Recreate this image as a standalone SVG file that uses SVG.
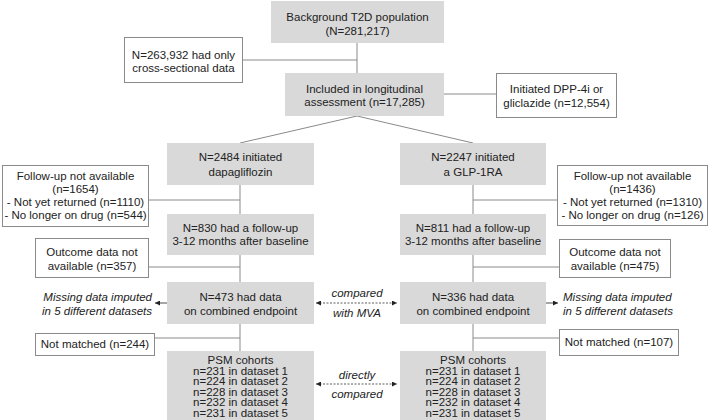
<svg xmlns="http://www.w3.org/2000/svg" width="709" height="420" viewBox="0 0 709 420">
<style>
text{font-family:"Liberation Sans",Arial,sans-serif;font-size:11.5px;fill:#222;text-anchor:middle}
.g{fill:#d9d9d9;stroke:none}
.w{fill:#fff;stroke:#8a8a8a;stroke-width:1}
.ln{stroke:#8a8a8a;stroke-width:1;fill:none}
.ds{stroke:#333;stroke-width:0.8;stroke-dasharray:2,1.5;fill:none}
.it{font-style:italic}
.l{text-anchor:start}
.r{text-anchor:end}
</style>
<defs>
<marker id="ah" viewBox="0 0 10 10" refX="10" refY="5" markerWidth="5" markerHeight="5" markerUnits="userSpaceOnUse" orient="auto-start-reverse">
<path d="M0,0 L10,5 L0,10 z" fill="#222"/>
</marker>
</defs>
<g id="connectors">
<line class="ln" x1="357" y1="43" x2="357" y2="73"/>
<line class="ln" x1="242" y1="60" x2="357" y2="60"/>
<line class="ln" x1="444" y1="94" x2="496" y2="94"/>
<line class="ln" x1="357" y1="116" x2="240" y2="143"/>
<line class="ln" x1="357" y1="116" x2="473" y2="143"/>
<line class="ln" x1="240" y1="185" x2="240" y2="214"/>
<line class="ln" x1="240" y1="255" x2="240" y2="282"/>
<line class="ln" x1="240" y1="324" x2="240" y2="351"/>
<line class="ln" x1="473" y1="185" x2="473" y2="214"/>
<line class="ln" x1="473" y1="255" x2="473" y2="282"/>
<line class="ln" x1="473" y1="324" x2="473" y2="351"/>
<line class="ln" x1="148" y1="200" x2="240" y2="200"/>
<line class="ln" x1="473" y1="200" x2="557" y2="200"/>
<line class="ln" x1="148" y1="267" x2="240" y2="267"/>
<line class="ln" x1="473" y1="267" x2="559" y2="267"/>
<line class="ln" x1="154" y1="338" x2="240" y2="338"/>
<line class="ln" x1="473" y1="338" x2="559" y2="338"/>
<line stroke="#222" stroke-width="0.8" x1="167" y1="303" x2="155" y2="303" marker-end="url(#ah)"/>
<line stroke="#222" stroke-width="0.8" x1="546" y1="303" x2="558" y2="303" marker-end="url(#ah)"/>
<line class="ds" x1="316" y1="303" x2="397" y2="303" marker-start="url(#ah)" marker-end="url(#ah)"/>
<line class="ds" x1="316" y1="384" x2="397" y2="384" marker-start="url(#ah)" marker-end="url(#ah)"/>
<text class="it" x="357" y="297">compared</text>
<text class="it" x="357" y="317">with MVA</text>
<text class="it" x="357" y="379">directly</text>
<text class="it" x="357" y="398">compared</text>
</g>
<g id="background">
<rect class="g" x="271" y="1" width="173" height="42"/>
<text x="357.5" y="21">Background T2D population</text>
<text x="357.5" y="35">(N=281,217)</text>
</g>
<g id="crosssectional">
<rect class="w" x="124.5" y="37.5" width="118" height="45"/>
<text x="183.5" y="59">N=263,932 had only</text>
<text x="183.5" y="72">cross-sectional data</text>
</g>
<g id="longitudinal">
<rect class="g" x="285" y="73" width="159" height="43"/>
<text x="364.5" y="93">Included in longitudinal</text>
<text x="364.5" y="106">assessment (n=17,285)</text>
</g>
<g id="dpp4i">
<rect class="w" x="496.5" y="73.5" width="120" height="44"/>
<text x="556.5" y="93">Initiated DPP-4i or</text>
<text x="556.5" y="107">gliclazide (n=12,554)</text>
</g>
<g id="dapa">
<rect class="g" x="167" y="143" width="147" height="42"/>
<text x="240.5" y="161">N=2484 initiated</text>
<text x="240.5" y="176">dapagliflozin</text>
</g>
<g id="glp">
<rect class="g" x="400" y="143" width="146" height="42"/>
<text x="473" y="161">N=2247 initiated</text>
<text x="473" y="176">a GLP-1RA</text>
</g>
<g id="fu-left">
<rect class="w" x="2.5" y="165.5" width="146" height="61"/>
<text x="75.5" y="180">Follow-up not available</text>
<text x="75.5" y="193">(n=1654)</text>
<text x="75.5" y="206">- Not yet returned (n=1110)</text>
<text x="75.5" y="219">- No longer on drug (n=544)</text>
</g>
<g id="fu-right">
<rect class="w" x="557.5" y="165.5" width="150" height="60"/>
<text x="632.5" y="180">Follow-up not available</text>
<text x="632.5" y="193">(n=1436)</text>
<text x="632.5" y="206">- Not yet returned (n=1310)</text>
<text x="632.5" y="219">- No longer on drug (n=126)</text>
</g>
<g id="fu830">
<rect class="g" x="167" y="214" width="147" height="41"/>
<text x="240.5" y="232">N=830 had a follow-up</text>
<text x="240.5" y="245">3-12 months after baseline</text>
</g>
<g id="fu811">
<rect class="g" x="400" y="214" width="146" height="41"/>
<text x="473" y="232">N=811 had a follow-up</text>
<text x="473" y="245">3-12 months after baseline</text>
</g>
<g id="out-left">
<rect class="w" x="35.5" y="238.5" width="113" height="39"/>
<text x="92" y="256">Outcome data not</text>
<text x="92" y="270">available (n=357)</text>
</g>
<g id="out-right">
<rect class="w" x="559.5" y="239.5" width="111" height="38"/>
<text x="615" y="256">Outcome data not</text>
<text x="615" y="270">available (n=475)</text>
</g>
<g id="data473">
<rect class="g" x="167" y="282" width="147" height="42"/>
<text x="240.5" y="301">N=473 had data</text>
<text x="240.5" y="315">on combined endpoint</text>
</g>
<g id="data336">
<rect class="g" x="400" y="282" width="146" height="42"/>
<text x="473" y="301">N=336 had data</text>
<text x="473" y="315">on combined endpoint</text>
</g>
<g id="imp-left">
<text class="it r" x="152" y="301">Missing data imputed</text>
<text class="it r" x="152" y="315">in 5 different datasets</text>
</g>
<g id="imp-right">
<text class="it l" x="563" y="301">Missing data imputed</text>
<text class="it l" x="563" y="315">in 5 different datasets</text>
</g>
<g id="nm-left">
<rect class="w" x="35.5" y="333.5" width="119" height="22"/>
<text x="95" y="348">Not matched (n=244)</text>
</g>
<g id="nm-right">
<rect class="w" x="559.5" y="329.5" width="119" height="26"/>
<text x="619" y="346">Not matched (n=107)</text>
</g>
<g id="psm-left">
<rect class="g" x="167" y="351" width="147" height="69"/>
<text x="240.5" y="364">PSM cohorts</text>
<text x="240.5" y="374.5">n=231 in dataset 1</text>
<text x="240.5" y="385">n=224 in dataset 2</text>
<text x="240.5" y="395.5">n=228 in dataset 3</text>
<text x="240.5" y="406">n=232 in dataset 4</text>
<text x="240.5" y="416.5">n=231 in dataset 5</text>
</g>
<g id="psm-right">
<rect class="g" x="400" y="351" width="146" height="69"/>
<text x="473" y="364">PSM cohorts</text>
<text x="473" y="374.5">n=231 in dataset 1</text>
<text x="473" y="385">n=224 in dataset 2</text>
<text x="473" y="395.5">n=228 in dataset 3</text>
<text x="473" y="406">n=232 in dataset 4</text>
<text x="473" y="416.5">n=231 in dataset 5</text>
</g>
</svg>
